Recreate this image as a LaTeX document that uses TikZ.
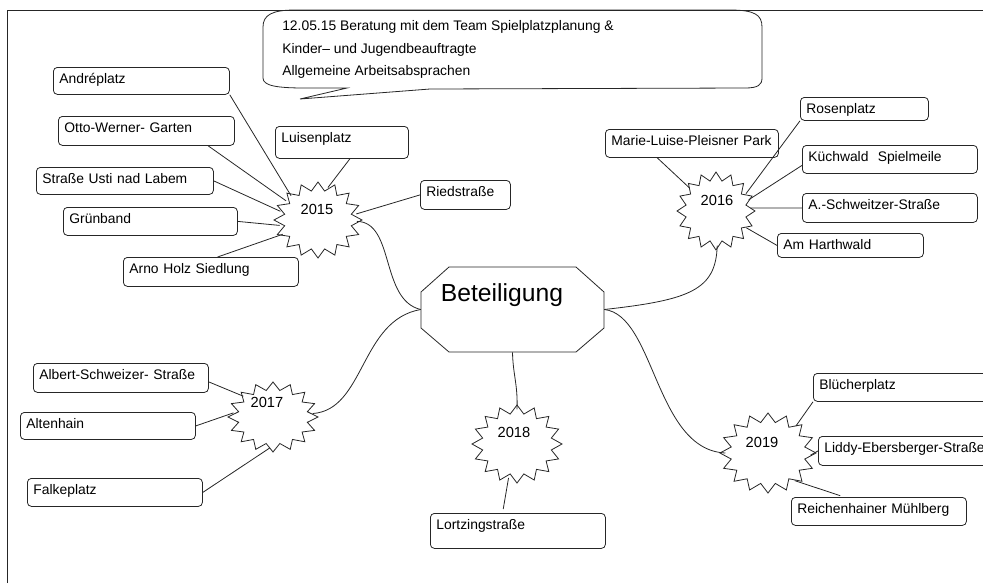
\documentclass[tikz,border=0pt]{standalone}
\usepackage{fontspec}
\setmainfont{Liberation Sans}
\usetikzlibrary{shapes.geometric}
\newcommand\burstpath[6]{% cx, cy, rx, ry, irx, iry
  \draw[ln,shift={(#1,#2)}] (90:#3 and #4)
    \foreach \k in {0,...,15}{ -- ({101.25+\k*22.5}:#5 and #6) -- ({112.5+\k*22.5}:#3 and #4)} -- cycle;}
\begin{document}
\begin{tikzpicture}[x=0.75pt,y=-0.75pt,
  ln/.style={line width=0.6pt, draw=black!85},
  box/.style={draw=black!85, line width=0.6pt, rounded corners=3pt, anchor=north west,
    inner xsep=4.5pt, inner ysep=0pt, text height=12pt, align=left,
    font=\fontsize{10.4}{12}\selectfont},
  bx/.style 2 args={text width=#1, text depth=#2},
  hub/.style 2 args={ellipse, draw=none, inner sep=0pt, minimum width=#1, minimum height=#2},
  yr/.style={inner sep=0pt, font=\fontsize{11}{13}\selectfont},
  note/.style={anchor=west, inner sep=0pt, font=\fontsize{10.4}{12}\selectfont},
]
\useasboundingbox (0,0) rectangle (983,583);
% frame
\draw[ln] (7,583) -- (7,10) -- (983,10);

% callout
\draw[ln] (263,78) -- (263,27) .. controls (263,15) and (272,10) .. (295,10) -- (730,10)
  .. controls (755,10) and (762,15) .. (762,27) -- (762,78)
  .. controls (762,85) and (758,88) .. (745,88) -- (430,89) -- (300,99) -- (347,88)
  -- (305,88) .. controls (278,88) and (263,86) .. (263,78);
\node[note] (n1) at (282,27) {12.05.15 Beratung mit dem Team Spielplatzplanung \&};
\node[note] (n2) at (282,50) {Kinder– und Jugendbeauftragte};
\node[note] (n3) at (282,72) {Allgemeine Arbeitsabsprachen};

% center octagon
\draw[ln] (449,267) -- (576,267) -- (604,292) -- (604,328) -- (576,352) -- (449,352) -- (421,328) -- (421,292) -- cycle;
\node[draw=none, minimum width=137.25pt, minimum height=63.75pt, inner sep=0pt] (oct) at (512.5,309.5) {};
\node[inner sep=0pt, font=\fontsize{18.5}{22}\selectfont] (betl) at (502,295) {Beteiligung};

% stars
\burstpath{318}{220}{44}{38}{34}{29.5}
\burstpath{716}{211}{39}{39}{30.5}{30.5}
\burstpath{273}{417}{45}{35}{35}{27}
\burstpath{517}{444}{45}{39}{35}{30.5}
\burstpath{768}{453}{48}{40}{37.5}{31}
\node[hub={58pt}{50pt}] (s15) at (318,220) {};
\node[hub={51.5pt}{51.5pt}] (s16) at (716,211) {};
\node[hub={59.4pt}{46.2pt}] (s17) at (273,417) {};
\node[hub={59.4pt}{51.5pt}] (s18) at (517,444) {};
\node[hub={63.4pt}{52.8pt}] (s19) at (768,453) {};
\node[yr] (t15) at (317,209) {2015};
\node[yr] (t16) at (717,200) {2016};
\node[yr] (t17) at (267,402) {2017};
\node[yr] (t18) at (514,432) {2018};
\node[yr] (t19) at (762,442) {2019};

% boxes 2015
\node[box, bx={123pt}{8.25pt}] (andre) at (53,67) {Andréplatz};
\node[box, bx={123pt}{9.75pt}] (otto) at (58,116) {Otto-Werner- Garten};
\node[box, bx={123.75pt}{8.25pt}] (usti) at (36,167) {Straße Usti nad Labem};
\node[box, bx={121.5pt}{9pt}] (gruen) at (63,207) {Grünband};
\node[box, bx={122.25pt}{9.75pt}] (arno) at (123,257) {Arno Holz Siedlung};
\node[box, bx={90.75pt}{12pt}] (luisen) at (275,126) {Luisenplatz};
\node[box, bx={58.5pt}{9.75pt}] (ried) at (420,180) {Riedstraße};
% boxes 2016
\node[box, bx={120.75pt}{9pt}] (marie) at (605,129) {Marie-Luise-Pleisner Park};
\node[box, bx={87pt}{5.25pt}] (rosen) at (800,97) {Rosenplatz};
\node[box, bx={122.25pt}{9pt}] (kuech) at (802,145) {Küchwald\ \ Spielmeile};
\node[box, bx={122.25pt}{9.75pt}] (aschw) at (802,193) {A.-Schweitzer-Straße};
\node[box, bx={100.5pt}{6pt}] (amh) at (777,233) {Am Harthwald};
% boxes 2017
\node[box, bx={122.25pt}{9.75pt}] (albert) at (33,363) {Albert-Schweizer- Straße};
\node[box, bx={122.25pt}{8.25pt}] (alten) at (20,412) {Altenhain};
\node[box, bx={122.25pt}{9pt}] (falke) at (27,478) {Falkeplatz};
% box 2018
\node[box, bx={122.25pt}{14.25pt}] (lortz) at (430,513) {Lortzingstraße};
% boxes 2019
\node[box, bx={141pt}{9pt}] (bluech) at (813,373) {Blücherplatz};
\node[box, bx={141pt}{9.75pt}] (liddy) at (818,436) {Liddy-Ebersberger-Straße};
\node[box, bx={122.25pt}{9pt}] (reich) at (791,497) {Reichenhainer Mühlberg};

% leaf connectors
\draw[ln] (andre.south east) -- (s15.138);
\draw[ln] ([xshift=-20pt]otto.south east) -- (s15.149);
\draw[ln] (usti.east) -- (s15.167);
\draw[ln] (gruen.east) -- (s15.188);
\draw[ln] ([xshift=5pt]arno.north) -- (s15.202);
\draw[ln] ([xshift=6pt]luisen.south) -- (s15.73);
\draw[ln] (ried.west) -- (s15.9);

\draw[ln] ([xshift=-26pt]marie.south) -- (s16.139);
\draw[ln] (rosen.south west) -- (s16.30);
\draw[ln] ([yshift=-4.5pt]kuech.west) -- (s16.19);
\draw[ln] (aschw.west) -- (s16.5);
\draw[ln] (amh.west) -- (s16.-29);

\draw[ln] ([yshift=-3pt]albert.east) -- (s17.145);
\draw[ln] (alten.east) -- (s17.174);
\draw[ln] (falke.east) -- (s17.264);

\draw[ln] ([xshift=-11pt,yshift=3pt]lortz.north) -- (s18.256);

\draw[ln] (bluech.south west) -- (s19.44);
\draw[ln] (liddy.west) -- (s19.-3);
\draw[ln] ([xshift=-29pt,yshift=1pt]reich.north) -- (s19.-46);

% hub connectors
\draw[ln] (s15.-2) .. controls (395,222) and (380,300) .. (oct.west);
\draw[ln] (s17.5) .. controls (365,410) and (360,320) .. (oct.west);
\draw[ln] (oct.east) .. controls (690,300) and (716,290) .. (s16.-88);
\draw[ln] (oct.east) .. controls (655,315) and (655,450) .. (s19.180);
\draw[ln] (oct.south) .. controls (513,375) and (518,385) .. (s18.90);
\end{tikzpicture}
\end{document}
